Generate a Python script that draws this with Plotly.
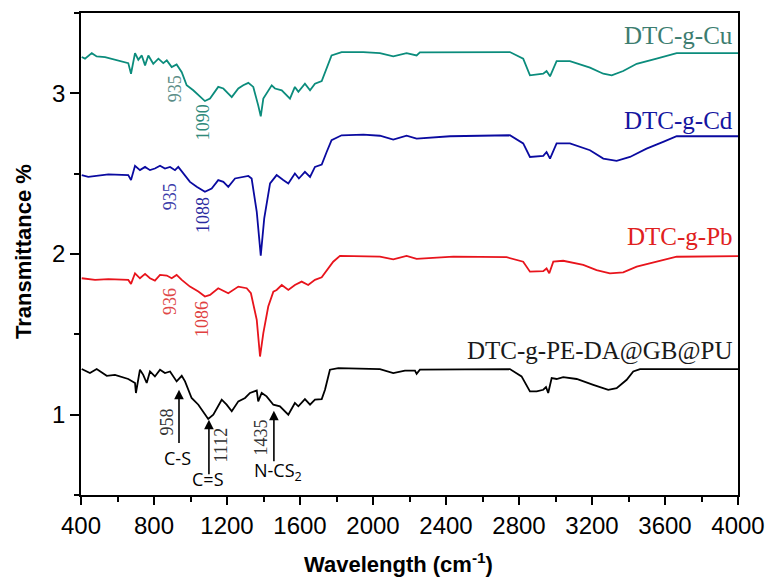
import plotly.graph_objects as go

# ---- data ----
pe_x = [404, 449, 486, 541, 586, 659, 696, 701, 723, 741, 760, 778, 805, 833, 860, 888, 924, 952, 970, 1006,
        1043, 1097, 1125, 1171, 1198, 1226, 1262, 1299, 1326, 1363, 1371, 1390, 1417, 1454, 1490, 1536, 1572, 1591, 1627, 1655,
        1682, 1719, 1737, 1764, 1810, 2038, 2111, 2175, 2230, 2239, 2257, 2495, 2750, 2814, 2860, 2897, 2933, 2948, 2960, 2979,
        3006, 3042, 3116, 3207, 3289, 3335, 3390, 3426, 3463, 4000]
pe_y = [1.284, 1.259, 1.284, 1.242, 1.248, 1.222, 1.197, 1.135, 1.28, 1.248, 1.197, 1.269, 1.238, 1.28, 1.259, 1.269, 1.207, 1.242, 1.207, 1.104,
        1.062, 0.973, 1.0, 1.093, 1.062, 1.021, 1.083, 1.104, 1.135, 1.151, 1.083, 1.135, 1.114, 1.062, 1.052, 1.0, 1.073, 1.052, 1.097, 1.062,
        1.093, 1.097, 1.155, 1.28, 1.29, 1.284, 1.259, 1.274, 1.274, 1.254, 1.28, 1.284, 1.284, 1.238, 1.145, 1.145, 1.155, 1.172, 1.135, 1.228,
        1.222, 1.234, 1.222, 1.186, 1.155, 1.165, 1.217, 1.269, 1.284, 1.284]

pb_x = [404, 477, 550, 659, 674, 696, 723, 751, 778, 805, 833, 870, 897, 924, 952, 997, 1043, 1079, 1107, 1152,
        1207, 1262, 1308, 1331, 1363, 1381, 1399, 1426, 1454, 1472, 1500, 1536, 1572, 1609, 1645, 1682, 1719, 1746, 1782, 1819,
        2038, 2111, 2184, 2239, 2440, 2732, 2823, 2860, 2933, 2951, 2966, 2988, 3042, 3152, 3225, 3298, 3371, 3445, 3554, 3664, 4000]
pb_y = [1.849, 1.839, 1.843, 1.839, 1.814, 1.88, 1.849, 1.876, 1.849, 1.834, 1.87, 1.866, 1.849, 1.87, 1.839, 1.797, 1.766, 1.735, 1.745, 1.787,
        1.756, 1.797, 1.787, 1.756, 1.59, 1.362, 1.507, 1.673, 1.766, 1.776, 1.807, 1.776, 1.807, 1.828, 1.807, 1.839, 1.855, 1.9, 1.952, 1.988,
        1.984, 1.967, 1.988, 1.97, 1.984, 1.98, 1.952, 1.89, 1.893, 1.91, 1.88, 1.952, 1.958, 1.932, 1.9, 1.88, 1.886, 1.921, 1.952, 1.983, 1.987]

cd_x = [404, 440, 550, 659, 674, 696, 723, 751, 778, 805, 833, 860, 888, 915, 933, 970, 997, 1034, 1079, 1116,
        1152, 1180, 1207, 1244, 1280, 1317, 1335, 1363, 1385, 1404, 1436, 1472, 1508, 1536, 1572, 1594, 1627, 1655, 1682, 1719,
        1746, 1773, 1828, 1947, 2038, 2111, 2184, 2239, 2422, 2750, 2823, 2860, 2933, 2951, 2970, 3006, 3079, 3189, 3262, 3335,
        3408, 3499, 3590, 3664, 4000]
cd_y = [2.491, 2.48, 2.495, 2.491, 2.46, 2.549, 2.522, 2.542, 2.522, 2.532, 2.549, 2.532, 2.542, 2.522, 2.542, 2.491, 2.449, 2.418, 2.387, 2.408,
        2.46, 2.449, 2.418, 2.47, 2.48, 2.486, 2.47, 2.263, 1.99, 2.222, 2.439, 2.491, 2.46, 2.439, 2.501, 2.47, 2.511, 2.48, 2.542, 2.557,
        2.635, 2.708, 2.739, 2.743, 2.736, 2.712, 2.736, 2.718, 2.733, 2.739, 2.688, 2.604, 2.611, 2.635, 2.594, 2.688, 2.688, 2.646, 2.594, 2.58,
        2.604, 2.656, 2.698, 2.733, 2.733]

cu_x = [404, 422, 459, 486, 532, 586, 659, 674, 696, 714, 733, 751, 769, 796, 824, 851, 870, 897, 924, 952,
        979, 1015, 1052, 1079, 1107, 1152, 1180, 1226, 1262, 1289, 1317, 1344, 1371, 1385, 1399, 1426, 1445, 1463, 1500, 1545,
        1572, 1591, 1627, 1655, 1682, 1719, 1746, 1773, 1828, 1947, 2038, 2111, 2184, 2239, 2257, 2750, 2823, 2860, 2933, 2951,
        2970, 3006, 3079, 3189, 3262, 3308, 3371, 3445, 3554, 3664, 4000]
cu_y = [3.226, 3.216, 3.25, 3.23, 3.226, 3.209, 3.188, 3.122, 3.25, 3.209, 3.236, 3.174, 3.236, 3.184, 3.216, 3.188, 3.205, 3.163, 3.18, 3.132,
        3.05, 3.019, 2.977, 2.952, 2.967, 3.04, 3.03, 2.977, 3.03, 3.05, 3.065, 3.04, 2.925, 2.857, 2.967, 3.019, 3.05, 3.03, 3.019, 2.967,
        3.04, 3.01, 3.06, 3.019, 3.06, 3.077, 3.163, 3.236, 3.257, 3.257, 3.25, 3.23, 3.25, 3.236, 3.255, 3.257, 3.216, 3.112, 3.122, 3.139,
        3.106, 3.2, 3.2, 3.16, 3.122, 3.112, 3.139, 3.184, 3.216, 3.25, 3.25]

series_names = ["DTC-g-PE-DA@GB@PU", "DTC-g-Pb", "DTC-g-Cd", "DTC-g-Cu"]
x_ticks = [400, 800, 1200, 1600, 2000, 2400, 2800, 3200, 3600, 4000]
y_ticks = [1, 2, 3]

# peak labels: (text, wavenumber, level, colour)
peak_labels = [
    ("935", 915, 3.031, "#5b8d87"), ("1090", 1068, 2.82, "#2f8a7b"),
    ("935", 888, 2.354, "#3a3aa8"), ("1088", 1068, 2.242, "#2a2aa0"),
    ("936", 888, 1.702, "#e04848"), ("1086", 1063, 1.596, "#e04040"),
    ("958", 871, 0.957, "#333333"), ("1112", 1167, 0.814, "#333333"), ("1435", 1386, 0.857, "#333333"),
]

colors = {"DTC-g-PE-DA@GB@PU": "#000000", "DTC-g-Pb": "#e8141c", "DTC-g-Cd": "#0a0aa0", "DTC-g-Cu": "#0b8c7c"}
label_colors = {"DTC-g-PE-DA@GB@PU": "#1a1a1a", "DTC-g-Pb": "#e02020", "DTC-g-Cd": "#1515a0", "DTC-g-Cu": "#3d7d70"}
label_levels = {"DTC-g-PE-DA@GB@PU": 1.398, "DTC-g-Pb": 2.112, "DTC-g-Cd": 2.832, "DTC-g-Cu": 3.36}

fig = go.Figure()
for name, xs, ys in zip(series_names, [pe_x, pb_x, cd_x, cu_x], [pe_y, pb_y, cd_y, cu_y]):
    fig.add_trace(go.Scatter(x=xs, y=ys, mode="lines", name=name,
                             line=dict(color=colors[name], width=1.8), showlegend=False))

serif = "Liberation Serif, Times New Roman, serif"
sans = "Liberation Sans, Arial, sans-serif"

annotations = []
for name in series_names:
    annotations.append(dict(x=3985, y=label_levels[name], xref="x", yref="y", text=name, showarrow=False,
                            xanchor="right", yanchor="middle",
                            font=dict(family=serif, size=25, color=label_colors[name])))
for txt, xv, yv, col in peak_labels:
    annotations.append(dict(x=xv, y=yv, xref="x", yref="y", text=txt, showarrow=False, textangle=-90,
                            xanchor="center", yanchor="middle",
                            font=dict(family=serif, size=18, color=col)))

# arrows (tip, tail)
arrows = [(937, 1.155, 937, 0.814), (1101, 0.969, 1101, 0.62), (1457, 1.025, 1457, 0.70)]
for tx, ty, sx, sy in arrows:
    annotations.append(dict(x=tx, y=ty, ax=sx, ay=sy, xref="x", yref="y", axref="x", ayref="y",
                            text="", showarrow=True, arrowhead=2, arrowsize=1.2, arrowwidth=1.6,
                            arrowcolor="#000000"))

bond_labels = [("C-S", 926, 0.733), ("C=S", 1096, 0.602), ("N-CS<sub>2</sub>", 1479, 0.646)]
for txt, xv, yv in bond_labels:
    annotations.append(dict(x=xv, y=yv, xref="x", yref="y", text=txt, showarrow=False,
                            xanchor="center", yanchor="middle",
                            font=dict(family="Open Sans, Noto Sans, sans-serif", size=18, color="#000000")))

# page body has an 8px margin: lay out in screen pixels and shift
OFF = 8
W, H = 776, 587
plot_left, plot_right, plot_top, plot_bottom = 81, 738, 13, 495
L = plot_left - OFF
T = plot_top - OFF
R = W - (plot_right - OFF)
B = H - (plot_bottom - OFF)
pw, ph = plot_right - plot_left, plot_bottom - plot_top

def px_to_paper(sx, sy):
    return (sx - plot_left) / pw, (plot_bottom - sy) / ph

xt_x, xt_y = px_to_paper(398, 563)
yt_x, yt_y = px_to_paper(23, 252)
annotations.append(dict(x=xt_x, y=xt_y, xref="paper", yref="paper", xanchor="center", yanchor="middle",
                        text="<b>Wavelength (cm<sup>-1</sup>)</b>", showarrow=False,
                        font=dict(family=sans, size=22, color="black")))
annotations.append(dict(x=yt_x, y=yt_y, xref="paper", yref="paper", xanchor="center", yanchor="middle",
                        text="<b>Transmittance %</b>", showarrow=False, textangle=-90,
                        font=dict(family=sans, size=22, color="black")))

axis_font = dict(family=sans, size=24, color="#000000")
fig.update_layout(
    width=W, height=H,
    margin=dict(l=L, r=R, t=T, b=B, autoexpand=False),
    plot_bgcolor="white", paper_bgcolor="white",
    annotations=annotations,
    xaxis=dict(range=[400, 4000], tickvals=x_ticks, ticks="outside", ticklen=8, tickwidth=1.5, tickcolor="black",
               showline=True, linewidth=1.8, linecolor="black", mirror=True, showgrid=False, zeroline=False,
               tickfont=axis_font, automargin=False,
               minor=dict(dtick=200, ticks="outside", ticklen=5, tickwidth=1.5, tickcolor="black")),
    yaxis=dict(range=[0.5, 3.5], tickvals=y_ticks, ticks="outside", ticklen=9, tickwidth=1.5, tickcolor="black",
               showline=True, linewidth=1.8, linecolor="black", mirror=True, showgrid=False, zeroline=False,
               tickfont=axis_font, automargin=False,
               minor=dict(dtick=0.5, ticks="outside", ticklen=5, tickwidth=1.5, tickcolor="black")),
)

fig.write_html("out.html")
